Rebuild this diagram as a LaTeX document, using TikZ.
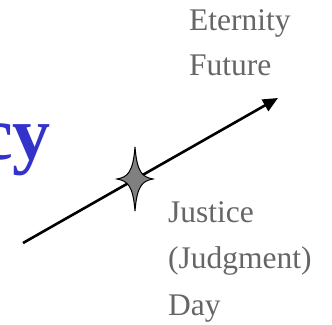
\documentclass[tikz,border=0pt]{standalone}
\usepackage{fontspec}
\setmainfont{Liberation Serif}
\usetikzlibrary{arrows.meta}
\definecolor{word}{HTML}{3333CC}
\definecolor{lbl}{HTML}{666666}

\begin{document}
\begin{tikzpicture}[
  x=1pt, y=-1pt,
  lbl/.style={text=lbl, font=\fontsize{31.5}{45}\selectfont, inner sep=0pt, anchor=base west},
  timeline/.style={line width=2.6pt, -{Triangle[length=15pt, width=13pt]}},
  starmark/.style={fill=black!50, draw=black, line width=1pt, line join=miter}]
\useasboundingbox (0,0) rectangle (332,324);
% title word, cut by the left edge
\node[text=word, font=\fontsize{76}{80}\selectfont\bfseries, inner sep=0pt, anchor=base east] (ttl) at (51,159) {cy};
% time line
\coordinate (past) at (23,243);
\coordinate (fut) at (278,98);
\draw[timeline] (past) -- (fut);
% day of judgment
\coordinate (jd) at (135,179);
\path[starmark, shift={(jd)}] (0,-32) .. controls (2,-7) and (7,-2) .. (18,0)
  .. controls (7,2) and (2,7) .. (0,32) .. controls (-2,7) and (-7,2) .. (-18,0)
  .. controls (-7,-2) and (-2,-7) .. (0,-32) -- cycle;
% labels
\node[lbl] (eter) at (189,30) {Eternity};
\node[lbl] (futr) at (189,75) {Future};
\node[lbl] (just) at (168,222) {Justice};
\node[lbl] (judg) at (168,268) {(Judgment)};
\node[lbl] (day)  at (168,315) {Day};
\end{tikzpicture}
\end{document}
